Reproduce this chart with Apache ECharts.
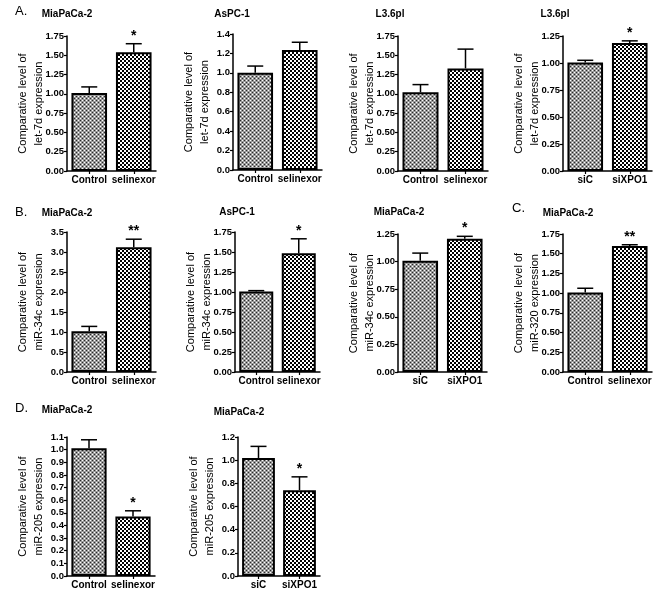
<!DOCTYPE html>
<html>
<head>
<meta charset="utf-8">
<script src="https://cdn.jsdelivr.net/npm/echarts@6/dist/echarts.min.js"></script>
<style>
html,body{margin:0;padding:0;background:#fff;}
#chart{width:667px;height:597px;}
</style>
</head>
<body>
<div id="chart"></div>
<script>
// ---------- data ----------
const catsDrug = ['Control', 'selinexor'];
const catsSi = ['siC', 'siXPO1'];

const a1Means = [1.01, 1.54]; const a1Err = [0.08, 0.11]; const a1Sig = ['', '*'];
const a2Means = [1.00, 1.235]; const a2Err = [0.07, 0.08]; const a2Sig = ['', ''];
const a3Means = [1.02, 1.33]; const a3Err = [0.10, 0.25]; const a3Sig = ['', ''];
const a4Means = [1.005, 1.185]; const a4Err = [0.02, 0.02]; const a4Sig = ['', '*'];
const b1Means = [1.02, 3.12]; const b1Err = [0.12, 0.20]; const b1Sig = ['', '**'];
const b2Means = [1.005, 1.485]; const b2Err = [0.012, 0.18]; const b2Sig = ['', '*'];
const b3Means = [1.007, 1.208]; const b3Err = [0.07, 0.021]; const b3Sig = ['', '*'];
const cMeans = [1.007, 1.597]; const cErr = [0.055, 0.017]; const cSig = ['', '**'];
const d1Means = [1.01, 0.471]; const d1Err = [0.068, 0.045]; const d1Sig = ['', '*'];
const d2Means = [1.019, 0.741]; const d2Err = [0.10, 0.115]; const d2Sig = ['', '*'];

const yNameLet7d = 'Comparative level of\nlet-7d expression';
const yNameMiR34c = 'Comparative level of\nmiR-34c expression';
const yNameMiR320 = 'Comparative level of\nmiR-320 expression';
const yNameMiR205 = 'Comparative level of\nmiR-205 expression';

const panelTitles = ['MiaPaCa-2', 'AsPC-1', 'L3.6pl', 'L3.6pl', 'MiaPaCa-2', 'AsPC-1', 'MiaPaCa-2', 'MiaPaCa-2', 'MiaPaCa-2', 'MiaPaCa-2'];
const yMaxes = [1.75, 1.4, 1.75, 1.25, 3.5, 1.75, 1.25, 1.75, 1.1, 1.2];
const ySteps = [0.25, 0.2, 0.25, 0.25, 0.5, 0.25, 0.25, 0.25, 0.1, 0.2];
const yDecimals = [2, 1, 2, 2, 1, 2, 2, 2, 1, 1];
const panelLetters = ['A.', 'B.', 'C.', 'D.'];

// ---------- panel definitions ----------
const panels = [
  {cats: catsDrug, means: a1Means, errs: a1Err, sig: a1Sig, yName: yNameLet7d},
  {cats: catsDrug, means: a2Means, errs: a2Err, sig: a2Sig, yName: yNameLet7d},
  {cats: catsDrug, means: a3Means, errs: a3Err, sig: a3Sig, yName: yNameLet7d},
  {cats: catsSi, means: a4Means, errs: a4Err, sig: a4Sig, yName: yNameLet7d},
  {cats: catsDrug, means: b1Means, errs: b1Err, sig: b1Sig, yName: yNameMiR34c},
  {cats: catsDrug, means: b2Means, errs: b2Err, sig: b2Sig, yName: yNameMiR34c},
  {cats: catsSi, means: b3Means, errs: b3Err, sig: b3Sig, yName: yNameMiR34c},
  {cats: catsDrug, means: cMeans, errs: cErr, sig: cSig, yName: yNameMiR320},
  {cats: catsDrug, means: d1Means, errs: d1Err, sig: d1Sig, yName: yNameMiR205},
  {cats: catsSi, means: d2Means, errs: d2Err, sig: d2Sig, yName: yNameMiR205}
];

// ---------- layout (positions / sizes) ----------
const gridBoxes = [
  [67, 36, 89, 135], [233, 34, 89, 136], [398, 36, 90, 135], [563, 36, 89, 135],
  [67, 232, 89, 140], [235, 232, 85, 140], [398, 234, 89, 138], [563, 234, 89, 138],
  [67, 437, 88, 139], [238, 437, 82, 139]
];
const titleXY = [
  [67, 14], [232, 14], [390, 14], [555, 14],
  [67, 213], [237, 212], [399, 212], [568, 213],
  [67, 410], [239, 412]
];
const letterXY = [[15, 11], [15, 212], [512, 208], [15, 408]];

const FONT = '"Liberation Sans", Arial, Helvetica, sans-serif';

// ---------- fill patterns ----------
function makeFinePattern() {
  const c = document.createElement('canvas');
  c.width = 4; c.height = 4;
  const g = c.getContext('2d');
  g.fillStyle = '#9a9a9a'; g.fillRect(0, 0, 4, 4);
  g.fillStyle = '#2a2a2a'; g.fillRect(0, 0, 1, 1); g.fillRect(2, 2, 1, 1);
  g.fillStyle = '#ffffff'; g.fillRect(2, 0, 1, 1); g.fillRect(0, 2, 1, 1);
  return c;
}
function makeCoarsePattern() {
  const c = document.createElement('canvas');
  c.width = 4; c.height = 4;
  const g = c.getContext('2d');
  g.fillStyle = '#ffffff'; g.fillRect(0, 0, 4, 4);
  g.fillStyle = '#000000'; g.fillRect(0, 0, 2, 2); g.fillRect(2, 2, 2, 2);
  return c;
}
const finePat = {image: makeFinePattern(), repeat: 'repeat'};
const coarsePat = {image: makeCoarsePattern(), repeat: 'repeat'};

// ---------- build option ----------
const option = {
  animation: false,
  backgroundColor: '#ffffff',
  grid: [], xAxis: [], yAxis: [], series: [], graphic: []
};

panels.forEach(function (p, i) {
  const b = gridBoxes[i];
  option.grid.push({left: b[0], top: b[1], width: b[2], height: b[3], containLabel: false});
  option.xAxis.push({
    type: 'category', gridIndex: i, data: p.cats,
    axisLine: {lineStyle: {color: '#000', width: 1.5}},
    axisTick: {show: true, alignWithLabel: true, length: 3, lineStyle: {color: '#000', width: 1.2}},
    axisLabel: {color: '#000', fontFamily: FONT, fontWeight: 'bold', fontSize: 10, margin: 4, interval: 0}
  });
  const dec = yDecimals[i];
  option.yAxis.push({
    type: 'value', gridIndex: i, min: 0, max: yMaxes[i], interval: ySteps[i],
    name: p.yName, nameLocation: 'middle', nameGap: 20, nameRotate: 90, nameMoveOverlap: false,
    nameTextStyle: {color: '#000', fontFamily: FONT, fontSize: 11, lineHeight: 16},
    axisLine: {show: true, lineStyle: {color: '#000', width: 1.5}},
    axisTick: {show: true, length: 3, lineStyle: {color: '#000', width: 1.2}},
    splitLine: {show: false},
    axisLabel: {
      color: '#000', fontFamily: FONT, fontWeight: 'bold', fontSize: 9.5, margin: 3,
      formatter: function (v) { return Number(v).toFixed(dec); }
    }
  });
  option.series.push({
    type: 'bar', xAxisIndex: i, yAxisIndex: i,
    barCategoryGap: '20%',
    data: p.means.map(function (m, k) {
      return {value: m, itemStyle: {color: k === 0 ? finePat : coarsePat}};
    }),
    itemStyle: {borderColor: '#000', borderWidth: 2},
    z: 2
  });
  option.series.push({
    type: 'custom', xAxisIndex: i, yAxisIndex: i, z: 3,
    data: p.means.map(function (m, k) { return [k, m, m + p.errs[k]]; }),
    renderItem: function (params, api) {
      const k = api.value(0);
      const base = api.coord([k, api.value(1)]);
      const top = api.coord([k, api.value(2)]);
      const cap = 8;
      const children = [
        {type: 'line', shape: {x1: base[0], y1: base[1], x2: top[0], y2: top[1]},
          style: {stroke: '#000', lineWidth: 1.5}},
        {type: 'line', shape: {x1: top[0] - cap, y1: top[1], x2: top[0] + cap, y2: top[1]},
          style: {stroke: '#000', lineWidth: 1.5}}
      ];
      const s = p.sig[k];
      if (s) {
        children.push({type: 'text', x: top[0], y: top[1] - 1,
          style: {text: s, fill: '#000', font: 'bold 14px ' + FONT, align: 'center', verticalAlign: 'bottom'}});
      }
      return {type: 'group', children: children};
    }
  });
  option.graphic.push({
    type: 'text', x: titleXY[i][0], y: titleXY[i][1],
    style: {text: panelTitles[i], fill: '#000', font: 'bold 10px ' + FONT, align: 'center', verticalAlign: 'middle'}
  });
});

panelLetters.forEach(function (t, j) {
  option.graphic.push({
    type: 'text', x: letterXY[j][0], y: letterXY[j][1],
    style: {text: t, fill: '#000', font: '13px ' + FONT, align: 'left', verticalAlign: 'middle'}
  });
});

const chart = echarts.init(document.getElementById('chart'), null, {renderer: 'canvas'});
chart.setOption(option);
</script>
</body>
</html>
